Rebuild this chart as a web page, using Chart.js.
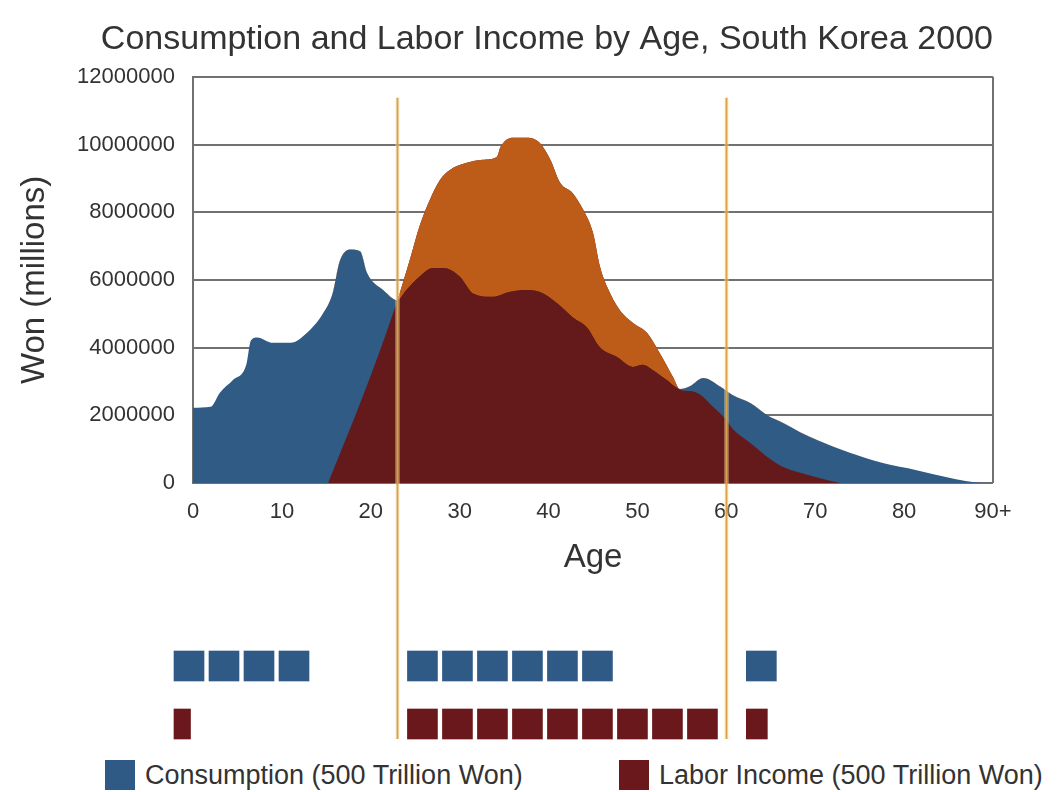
<!DOCTYPE html>
<html>
<head>
<meta charset="utf-8">
<title>Consumption and Labor Income by Age, South Korea 2000</title>
<script src="https://cdn.jsdelivr.net/npm/chart.js@4.4.1/dist/chart.umd.min.js"></script>
<style>
  html, body { margin: 0; padding: 0; background: #fff; overflow: hidden; }
  #page { position: relative; width: 1063px; height: 792px; }
  #mainChart { position: absolute; left: 0; top: 0; }
  #blockChart { position: absolute; left: 0; top: 637px; }
  #legend { position: absolute; left: 0; top: 760px; width: 1063px; margin: 0; padding: 0; list-style: none;
            font: 27px 'Liberation Sans', Arial, sans-serif; color: #333; }
  #legend li { position: absolute; top: 0; display: flex; align-items: center; height: 30px; white-space: nowrap; }
  #legend .box { width: 30px; height: 30px; margin-right: 10px; }
</style>
</head>
<body>
<div id="page">
  <canvas id="mainChart" width="1063" height="637"></canvas>
  <canvas id="blockChart" width="1063" height="116"></canvas>
  <ul id="legend"></ul>
</div>
<script>
// Per-capita profiles by age (won, millions)
const consumptionAges = [0, 2, 3, 4.5, 6, 6.5, 7.2, 9, 11, 12.8, 14.6, 15.7, 16.5, 17.7, 18.8, 19.6, 21.4, 23,
  24, 25.5, 27, 28.1, 30, 31.5, 33.7, 35.7, 37.6, 39.4, 41, 42.7, 44.3, 45.8, 47.7, 49.5, 50.6, 51.7, 53.3,
  54.8, 55.9, 57.4, 59.3, 60.7, 62.7, 64.6, 66.4, 68.3, 70.2, 73.9, 77.6, 81.4, 85.2, 87.7, 90];
const consumptionValues = [2220000, 2250000, 2660000, 3040000, 3500000, 4200000, 4300000, 4140000, 4140000,
  4430000, 5000000, 5600000, 6550000, 6900000, 6850000, 6200000, 5700000, 5400000,
  5700000, 6100000, 6350000, 6350000, 6100000, 5600000, 5500000, 5650000, 5700000, 5600000, 5300000,
  4900000, 4600000, 4000000, 3720000, 3430000, 3490000, 3340000, 3040000,
  2780000, 2860000, 3100000, 2850000, 2600000, 2360000, 2000000, 1770000, 1500000, 1270000,
  890000, 590000, 380000, 150000, 30000, 0];

const laborAges = [15.2, 19.6, 23, 24.4, 25.5, 26.7, 27.8, 28.9, 30.8, 32.6, 34.2, 34.6, 36, 37.6, 39,
  40.2, 41.3, 42.7, 43.9, 45, 45.8, 46.6, 48, 49.5, 51.1, 52.5, 54, 54.8, 55.9, 57, 58.5, 60, 60.7,
  62.7, 64.6, 66.4, 68.3, 71.3, 72.8];
const laborValues = [0, 2900000, 5400000, 6600000, 7600000, 8400000, 8960000, 9250000, 9460000, 9550000,
  9640000, 9930000, 10200000, 10200000, 10050000, 9550000, 8870000, 8570000, 8070000, 7390000, 6380000,
  5790000, 5110000, 4730000, 4430000, 3840000, 3130000, 2750000, 2720000, 2620000, 2250000, 1860000,
  1600000, 1180000, 770000, 470000, 300000, 90000, 0];

// Ages of the two orange marker lines
const markerAges = [23, 60];

const xTickValues = [0, 10, 20, 30, 40, 50, 60, 70, 80, 90];
const xTickLabels = ['0', '10', '20', '30', '40', '50', '60', '70', '80', '90+'];
const yTickValues = [0, 2000000, 4000000, 6000000, 8000000, 10000000, 12000000];

// Totals per age segment, counted in blocks of 500 trillion won
const segmentStartAges = [0, 23, 60];
const consumptionBlocks = [4, 6, 1];
const laborBlocks = [0.55, 9, 0.7];

const legendLabels = ['Consumption (500 Trillion Won)', 'Labor Income (500 Trillion Won)'];

// Styles and layout
const FONT = "'Liberation Sans', Arial, sans-serif";
const TEXT = '#333';
const GRID = '#717171';
const BLUE = '#2f5b85';
const DARK_RED = '#641a1b';
const ORANGE = '#bd5c18';
const BLOCK_BLUE = '#2f5a86';
const BLOCK_RED = '#6a181b';
const GOLD = '#d9a246';
const BLOCK_PITCH = 35;
const BLOCK_SIZE = 30;
const GROUP_SHIFT = [-19, 10, 20];
const LEGEND_LEFT = [105, 619];

Chart.defaults.font.family = FONT;
Chart.defaults.color = TEXT;

const toPoints = (xs, ys) => xs.map((x, i) => ({ x: x, y: ys[i] }));

// Draw the vertical age markers between two heights
function markerPlugin(id, getTop, getBottom) {
  return {
    id: id,
    afterDatasetsDraw(chart) {
      const ctx = chart.ctx;
      const x = chart.scales.x;
      const top = getTop(chart);
      const bottom = getBottom(chart);
      ctx.save();
      markerAges.forEach(age => {
        const px = Math.round(x.getPixelForValue(age)) + 0.5;
        ctx.beginPath();
        ctx.moveTo(px, top);
        ctx.lineTo(px, bottom);
        ctx.strokeStyle = 'rgba(250, 228, 180, 0.35)';
        ctx.lineWidth = 5;
        ctx.stroke();
        ctx.strokeStyle = GOLD;
        ctx.lineWidth = 2;
        ctx.stroke();
      });
      ctx.restore();
    }
  };
}

// Area chart: consumption, labor income and the surplus between them
const mainChart = new Chart(document.getElementById('mainChart'), {
  type: 'line',
  data: {
    datasets: [
      { label: 'Consumption', data: toPoints(consumptionAges, consumptionValues),
        fill: 'origin', backgroundColor: BLUE, order: 3 },
      { label: 'Labor Income', data: toPoints(laborAges, laborValues),
        fill: 'origin', backgroundColor: DARK_RED, order: 2 },
      { label: 'Surplus', data: toPoints(laborAges, laborValues),
        fill: { target: 0, above: ORANGE, below: 'transparent' }, backgroundColor: ORANGE, order: 1 }
    ]
  },
  options: {
    responsive: false,
    animation: false,
    layout: { padding: { left: 0, right: 70, top: 0, bottom: 0 } },
    elements: {
      line: { borderWidth: 0, borderColor: 'transparent', cubicInterpolationMode: 'monotone' },
      point: { radius: 0, hoverRadius: 0 }
    },
    plugins: {
      legend: { display: false },
      tooltip: { enabled: false },
      title: {
        display: true,
        align: 'end',
        text: 'Consumption and Labor Income by Age, South Korea 2000',
        color: TEXT,
        font: { size: 34, weight: 'normal' },
        padding: { top: 19, bottom: 17 }
      }
    },
    scales: {
      x: {
        type: 'linear', min: 0, max: 90,
        afterFit: s => { s.height = 154; },
        afterBuildTicks: s => { s.ticks = xTickValues.map(v => ({ value: v })); },
        ticks: {
          autoSkip: false, maxRotation: 0, padding: 16,
          font: { size: 22 }, color: TEXT,
          callback: (v, i) => xTickLabels[i]
        },
        grid: {
          drawTicks: false, lineWidth: 2,
          color: c => (c.tick && (c.tick.value === 0 || c.tick.value === 90)) ? GRID : 'transparent'
        },
        border: { display: false },
        title: { display: true, text: 'Age', color: TEXT, font: { size: 33 }, padding: { top: 0, bottom: 59 } }
      },
      y: {
        min: 0, max: 12000000,
        afterFit: s => { s.width = 193; },
        afterBuildTicks: s => { s.ticks = yTickValues.map(v => ({ value: v })); },
        ticks: { padding: 18, font: { size: 22 }, color: TEXT, callback: v => String(v) },
        grid: { drawTicks: false, color: GRID, lineWidth: 2 },
        border: { color: GRID, width: 2 },
        title: { display: true, text: 'Won (millions)', color: TEXT, font: { size: 33 }, padding: { top: 15, bottom: 0 } }
      }
    }
  },
  plugins: [markerPlugin('markerMain', c => c.chartArea.top + 21, c => c.height)]
});

// Block rows below: one square per 500 trillion won, grouped by age segment
const xMain = mainChart.scales.x;

function blockSpan(units, k, g) {
  if (k >= units) return null;
  const w = Math.min(1, units - k);
  const left = xMain.getPixelForValue(segmentStartAges[g]) + GROUP_SHIFT[g] + k * BLOCK_PITCH;
  return [xMain.getValueForPixel(left), xMain.getValueForPixel(left + w * BLOCK_SIZE)];
}

const blockDatasets = [];
segmentStartAges.forEach((age, g) => {
  const n = Math.ceil(Math.max(consumptionBlocks[g], laborBlocks[g]));
  for (let k = 0; k < n; k++) {
    blockDatasets.push({
      label: 'segment ' + g + ' block ' + k,
      data: [blockSpan(consumptionBlocks[g], k, g), blockSpan(laborBlocks[g], k, g)],
      backgroundColor: [BLOCK_BLUE, BLOCK_RED],
      borderWidth: 0,
      grouped: false,
      barThickness: BLOCK_SIZE,
      clip: false
    });
  }
});

const blockChart = new Chart(document.getElementById('blockChart'), {
  type: 'bar',
  data: { labels: ['Consumption', 'Labor Income'], datasets: blockDatasets },
  options: {
    indexAxis: 'y',
    responsive: false,
    animation: false,
    layout: {
      padding: {
        left: mainChart.chartArea.left,
        right: mainChart.width - mainChart.chartArea.right,
        top: 0, bottom: 0
      }
    },
    plugins: { legend: { display: false }, tooltip: { enabled: false } },
    scales: {
      x: { type: 'linear', min: 0, max: 90, display: false },
      y: { type: 'category', offset: true, display: false }
    }
  },
  plugins: [markerPlugin('markerBlocks', () => 0, c => c.scales.y.getPixelForValue(1) + BLOCK_SIZE / 2)]
});

// Legend for the block rows
const legendEl = document.getElementById('legend');
const legendColors = [BLOCK_BLUE, BLOCK_RED];
legendLabels.forEach((text, i) => {
  const li = document.createElement('li');
  li.style.left = LEGEND_LEFT[i] + 'px';
  const box = document.createElement('span');
  box.className = 'box';
  box.style.background = legendColors[i];
  const label = document.createElement('span');
  label.textContent = text;
  li.append(box, label);
  legendEl.append(li);
});
</script>
</body>
</html>
